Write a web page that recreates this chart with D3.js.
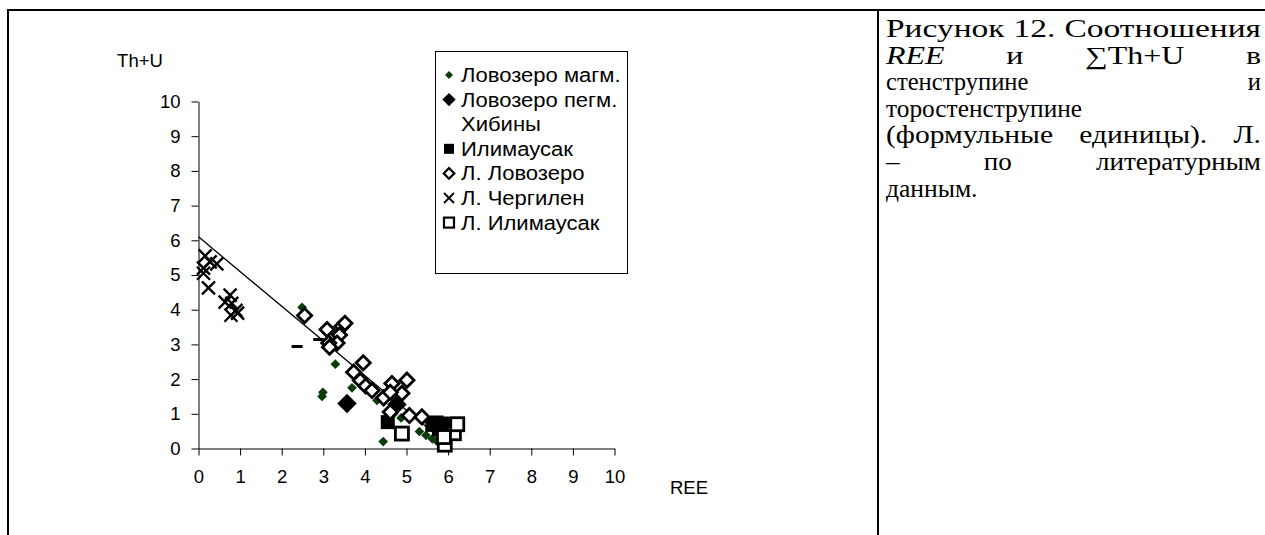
<!DOCTYPE html>
<html>
<head>
<meta charset="utf-8">
<script src="https://cdn.jsdelivr.net/npm/d3@7"></script>
<style>
  html, body { margin: 0; padding: 0; background: #fff; }
  svg { display: block; }
</style>
</head>
<body>
<svg id="fig" width="1265" height="535"></svg>
<script>
// ---- data (formula units) ----
const xTicks = [0, 1, 2, 3, 4, 5, 6, 7, 8, 9, 10];
const yTicks = [0, 1, 2, 3, 4, 5, 6, 7, 8, 9, 10];

const lovMagmX = [2.49, 3.29, 2.99, 2.97, 3.69, 3.70, 4.01, 4.29, 4.45, 4.44, 4.69, 4.87, 5.31, 5.47, 5.62, 5.72];
const lovMagmY = [4.07, 2.43, 1.62, 1.50, 1.75, 2.20, 1.78, 1.39, 1.35, 0.20, 1.00, 0.88, 0.49, 0.38, 0.28, 0.22];

const lovPegmX = [3.57, 4.77];
const lovPegmY = [1.30, 1.27];

const khibinyX = [2.37, 2.89];
const khibinyY = [2.94, 3.14];

const ilimX = [4.55, 5.62, 5.72, 5.85, 5.95, 6.05, 5.78, 5.90];
const ilimY = [0.76, 0.68, 0.75, 0.72, 0.66, 0.70, 0.55, 0.50];

const litLovX = [2.55, 3.09, 3.45, 3.52, 3.39, 3.33, 3.13, 3.15, 3.96, 3.73, 3.89, 4.02, 4.17, 4.45, 4.65, 5.01, 4.89, 4.61, 4.61, 5.07, 5.37];
const litLovY = [3.83, 3.43, 3.52, 3.61, 3.27, 3.04, 3.04, 2.92, 2.47, 2.20, 1.96, 1.80, 1.67, 1.46, 1.87, 1.97, 1.59, 1.62, 1.05, 0.95, 0.91];

const litChergX = [0.16, 0.28, 0.44, 0.12, 0.12, 0.24, 0.76, 0.64, 0.80, 0.90, 0.78, 0.94];
const litChergY = [5.55, 5.38, 5.32, 5.20, 5.05, 4.63, 4.42, 4.22, 4.18, 3.98, 3.84, 3.90];

const litIlimX = [4.89, 5.92, 6.14, 6.22, 5.90];
const litIlimY = [0.43, 0.11, 0.44, 0.70, 0.33];

// linear trend: intercept, slope, x span
const trendCoef = [6.1, -1.0];
const trendSpan = [0, 5.95];

const legendNames = ["Ловозеро магм.", "Ловозеро пегм.", "Хибины", "Илимаусак", "Л. Ловозеро", "Л. Чергилен", "Л. Илимаусак"];

const captionLines = [
  [{t: "Рисунок"}, {t: "12."}, {t: "Соотношения"}],
  [{t: "REE", i: true}, {t: "и"}, {t: "∑Th+U"}, {t: "в"}],
  [{t: "стенструпине"}, {t: "и"}],
  [{t: "торостенструпине"}],
  [{t: "(формульные"}, {t: "единицы)."}, {t: "Л."}],
  [{t: "–"}, {t: "по"}, {t: "литературным"}],
  [{t: "данным."}]
];
// "fill": glyphs widened so the words fill the line; "justify": spread by word gaps
const captionMode = ["fill", "justify", "justify", "left", "justify", "justify", "left"];
const captionWiden = [1, 1.3, 1, 1.03, 1.2, 1.1, 1.04];

// ---- drawing ----
const svg = d3.select("#fig");
const FONT = "Arial, 'Liberation Sans', sans-serif";

// frame of the table cells
svg.append("line").attr("x1", 8).attr("x2", 1265).attr("y1", 10).attr("y2", 10)
  .attr("stroke", "#000").attr("stroke-width", 2);
svg.append("line").attr("x1", 8).attr("x2", 8).attr("y1", 9).attr("y2", 535)
  .attr("stroke", "#000").attr("stroke-width", 2);
svg.append("line").attr("x1", 878).attr("x2", 878).attr("y1", 9).attr("y2", 535)
  .attr("stroke", "#000").attr("stroke-width", 2);

const x = d3.scaleLinear().domain([0, 10]).range([198.5, 614.5]);
const y = d3.scaleLinear().domain([0, 10]).range([448.5, 101.5]);

const gx = svg.append("g").attr("transform", `translate(0,${y(0)})`)
  .call(d3.axisBottom(x).tickValues(xTicks).tickSize(7).tickSizeOuter(0).tickPadding(14).tickFormat(d3.format("d")));
const gy = svg.append("g").attr("transform", `translate(${x(0)},0)`)
  .call(d3.axisLeft(y).tickValues(yTicks).tickSize(7).tickSizeOuter(0).tickPadding(11).tickFormat(d3.format("d")));
[gx, gy].forEach(g => {
  g.selectAll("text").attr("font-family", FONT).attr("font-size", 18.5).attr("fill", "#000");
  g.selectAll("line").attr("stroke", "#000");
  g.select(".domain").attr("stroke", "#000");
});

svg.append("text").attr("x", 140).attr("y", 60).attr("text-anchor", "middle")
  .attr("dominant-baseline", "central").attr("font-family", FONT).attr("font-size", 18.5).text("Th+U");
svg.append("text").attr("x", 670).attr("y", 487).attr("dominant-baseline", "central")
  .attr("font-family", FONT).attr("font-size", 18.5).text("REE");

// trend line
const trendLine = d3.line().x(d => x(d)).y(d => y(trendCoef[0] + trendCoef[1] * d));
svg.append("path").datum(trendSpan).attr("d", trendLine)
  .attr("fill", "none").attr("stroke", "#000").attr("stroke-width", 1.3);

const GREEN = "#0a3d0a";
const zip = (xs, ys) => xs.map((v, i) => ({x: v, y: ys[i]}));

// marker painters: (g, size, strokeWidth)
const markers = {
  smallDiamond: (g, s) => g.append("path").attr("d", d3.symbol(d3.symbolDiamond2, s * s * 0.5)).attr("fill", GREEN),
  bigDiamond: (g, s) => g.append("path").attr("d", d3.symbol(d3.symbolDiamond2, s * s * 0.5)).attr("fill", "#000"),
  dash: (g, s) => g.append("line").attr("x1", -s / 2).attr("x2", s / 2).attr("stroke", "#000").attr("stroke-width", 3),
  filledSquare: (g, s) => g.append("rect").attr("x", -s / 2).attr("y", -s / 2).attr("width", s).attr("height", s).attr("fill", "#000"),
  openDiamond: (g, s, w) => g.append("path").attr("d", d3.symbol(d3.symbolDiamond2, s * s * 0.5)).attr("fill", "#fff").attr("stroke", "#000").attr("stroke-width", w),
  cross: (g, s, w) => g.append("path").attr("d", `M${-s/2},${-s/2}L${s/2},${s/2}M${-s/2},${s/2}L${s/2},${-s/2}`).attr("stroke", "#000").attr("stroke-width", w).attr("fill", "none"),
  openSquare: (g, s, w) => g.append("rect").attr("x", -s / 2).attr("y", -s / 2).attr("width", s).attr("height", s).attr("fill", "#fff").attr("stroke", "#000").attr("stroke-width", w)
};

const series = [
  {name: legendNames[0], data: zip(lovMagmX, lovMagmY), m: "smallDiamond", size: 11, lsize: 9},
  {name: legendNames[1], data: zip(lovPegmX, lovPegmY), m: "bigDiamond", size: 22, lsize: 15},
  {name: legendNames[2], data: zip(khibinyX, khibinyY), m: "dash", size: 11, lsize: 0},
  {name: legendNames[3], data: zip(ilimX, ilimY), m: "filledSquare", size: 14, lsize: 10},
  {name: legendNames[4], data: zip(litLovX, litLovY), m: "openDiamond", size: 16, lsize: 12},
  {name: legendNames[5], data: zip(litChergX, litChergY), m: "cross", size: 13, lsize: 10},
  {name: legendNames[6], data: zip(litIlimX, litIlimY), m: "openSquare", size: 13, lsize: 10}
];

series.forEach(s => {
  svg.append("g").selectAll("g").data(s.data).join("g")
    .attr("transform", d => `translate(${x(d.x)},${y(d.y)})`)
    .each(function () { markers[s.m](d3.select(this), s.size, s.m === "cross" ? 2.4 : 2.8); });
});

// legend
const lg = svg.append("g");
lg.append("rect").attr("x", 435.5).attr("y", 51.5).attr("width", 192).attr("height", 222)
  .attr("fill", "#fff").attr("stroke", "#000").attr("stroke-width", 1);
series.forEach((s, i) => {
  const cy = 75 + i * 24.6;
  if (s.lsize > 0) {
    const mg = lg.append("g").attr("transform", `translate(449,${cy})`);
    markers[s.m](mg, s.lsize, s.m === "cross" ? 1.8 : 2.2);
  }
  lg.append("text").attr("transform", `translate(461,${cy}) scale(1.13,1)`)
    .attr("dominant-baseline", "central")
    .attr("font-family", FONT).attr("font-size", 19.5).text(s.name);
});

// caption in the neighbouring cell
const SERIF = "'Times New Roman', 'Liberation Serif', serif";
const capLeft = 886, capRight = 1261, capTop = 37, capLead = 26.6, capSpace = 9;
captionLines.forEach((words, li) => {
  const baseY = capTop + li * capLead;
  const nodes = words.map(w => svg.append("text").attr("y", baseY)
    .attr("font-family", SERIF).attr("font-size", 24.6)
    .attr("font-style", w.i ? "italic" : "normal").text(w.t));
  const natural = nodes.map(n => n.node().getComputedTextLength());
  const avail = capRight - capLeft;
  let k = captionWiden[li];
  if (captionMode[li] === "fill") k = (avail - capSpace * (words.length - 1)) / d3.sum(natural);
  const widths = natural.map(w => w * k);
  let gap = capSpace;
  if (captionMode[li] !== "left" && words.length > 1) gap = (avail - d3.sum(widths)) / (words.length - 1);
  let cx = capLeft;
  nodes.forEach((n, j) => {
    n.attr("x", null).attr("transform", `translate(${cx},0) scale(${k},1)`);
    cx += widths[j] + gap;
  });
});
</script>
</body>
</html>
